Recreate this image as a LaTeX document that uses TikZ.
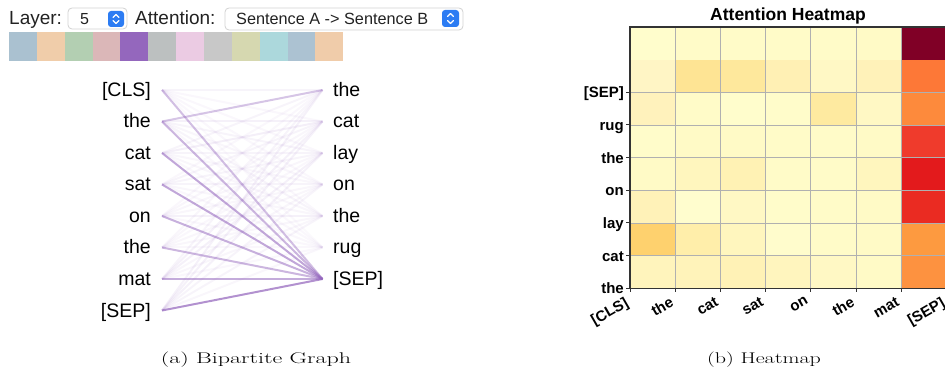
\documentclass[tikz,border=0pt]{standalone}
\usepackage{fontspec}
\usepackage{graphicx}
\newfontfamily\lsans{Liberation Sans}
\definecolor{attn}{HTML}{9467BD}
\definecolor{uitext}{HTML}{222222}
\definecolor{boxline}{HTML}{D2D2D2}
\definecolor{iconblue}{HTML}{2C7CF3}
\definecolor{gridgray}{HTML}{B0B0B0}
\definecolor{spinecol}{HTML}{333333}
\tikzset{
  uilabel/.style={anchor=base west, inner sep=0pt, text=uitext, font=\lsans\fontsize{19}{22}\selectfont},
  uibox/.style={draw=boxline, fill=white, rounded corners=4pt, line width=0.8pt},
  uiicon/.style={fill=iconblue, rounded corners=3pt},
  chev/.style={draw=white, line width=1.3pt, line cap=round, line join=round},
  lword/.style={anchor=base east, inner sep=0pt, font=\lsans\fontsize{19.5}{22}\selectfont},
  rword/.style={anchor=base west, inner sep=0pt, font=\lsans\fontsize{19.5}{22}\selectfont},
  link/.style={draw=attn, line width=2pt},
  grid line/.style={draw=gridgray, line width=0.9pt},
  spine/.style={draw=spinecol, line width=1.3pt},
  tickmark/.style={draw=spinecol, line width=1pt},
  ylab/.style={anchor=base east, inner sep=0pt, font=\lsans\bfseries\fontsize{15}{17}\selectfont},
  xlab/.style={anchor=north east, inner sep=0pt, rotate=30, font=\lsans\bfseries\fontsize{15}{17}\selectfont},
  htitle/.style={anchor=base, inner sep=0pt, font=\lsans\bfseries\fontsize{17.5}{20}\selectfont},
  captext/.style={inner sep=0pt, font=\fontsize{15.5}{18}\selectfont},
}
\begin{document}
\begin{tikzpicture}[x=1pt, y=-1pt]
\useasboundingbox (0,0) rectangle (945,371);

% ---------- top controls ----------
\node[uilabel] (layerlbl) at (9,25) {Layer:};
\draw[uibox] (68,8) rectangle (127,29);
\node[anchor=base west, inner sep=0pt, text=uitext, font=\lsans\fontsize{16}{18}\selectfont] (layerval) at (80,24.5) {5};
\fill[uiicon] (108,11) rectangle (124,27);
\draw[chev] (113,17.5) -- (116,14.5) -- (119,17.5);
\draw[chev] (113,20.5) -- (116,23.5) -- (119,20.5);
\node[uilabel] (attnlbl) at (135,25) {Attention:};
\draw[uibox] (225,8) rectangle (463,30);
\node[anchor=base west, inner sep=0pt, text=uitext, font=\lsans\fontsize{16.25}{18}\selectfont] (attnval) at (236,25) {Sentence A -> Sentence B};
\fill[uiicon] (442,10) rectangle (459,27);
\draw[chev] (447.5,16.5) -- (450.5,13.5) -- (453.5,16.5);
\draw[chev] (447.5,20.5) -- (450.5,23.5) -- (453.5,20.5);

% colour swatches
\foreach \c [count=\k from 0] in {AAC1D0,F0CDAA,B3CFB2,DBB7B8,9467BD,BCC0C0,EBCBE3,C8C8C8,D6D8B0,ACD8DC,ACC2D2,F0CCAA} {
  \definecolor{sw}{HTML}{\c}
  \fill[sw] ({9+\k*27.86},32.3) rectangle ++(27.86,28.7);
}

% ---------- bipartite graph ----------
\foreach \w [count=\i from 0] in {[CLS],the,cat,sat,on,the,mat,[SEP]} {
  \node[lword] (L\i) at (151,{90+\i*31.5+6.5}) {\w};
  \coordinate (la\i) at (162,{90+\i*31.5});
}
\foreach \w [count=\j from 0] in {the,cat,lay,on,the,rug,[SEP]} {
  \node[rword] (R\j) at (333,{90+\j*31.5+6.5}) {\w};
  \coordinate (rb\j) at (322.5,{90+\j*31.5});
}
\foreach \ws [count=\i from 0] in {
  {0.07,0.05,0.05,0.05,0.05,0.04,0.42},
  {0.38,0.09,0.07,0.06,0.07,0.05,0.48},
  {0.07,0.10,0.07,0.06,0.06,0.05,0.58},
  {0.05,0.07,0.07,0.07,0.06,0.05,0.58},
  {0.05,0.06,0.06,0.06,0.09,0.05,0.52},
  {0.06,0.06,0.05,0.06,0.06,0.05,0.48},
  {0.07,0.09,0.09,0.06,0.06,0.05,0.55},
  {0.09,0.09,0.09,0.07,0.07,0.06,0.72}} {
  \foreach \o [count=\j from 0] in \ws {
    \draw[link, draw opacity=\o] (la\i) -- (rb\j);
  }
}

% ---------- heatmap ----------
\node[htitle] (title) at (788,20.5) {Attention Heatmap};
\foreach \cols [count=\r from 0] in {
  {FFFDCC,FFFBC8,FFFBC8,FFFBC8,FFFBC8,FFFAC6,800026},
  {FFF5C5,FEE494,FEE89C,FFF0B4,FFF8C5,FFF2B9,FD7837},
  {FFF2BC,FFFBC8,FFFDCC,FFFCCA,FEEAA0,FFF8C4,FD8A3C},
  {FFFCCA,FFFAC6,FFFAC6,FFFBC8,FFFBC8,FFFAC6,EF3B2C},
  {FFFAC6,FFF6BE,FFF2B4,FFFBC8,FFFBC8,FFF6BE,E31A1C},
  {FFF2B8,FFFDCE,FFF8C4,FFFCCA,FFFBC8,FFFAC6,EA2B22},
  {FED16E,FFEEAA,FFF6BE,FFFCCC,FFFBC8,FFFAC6,FD9A40},
  {FFF4BC,FFF3BA,FFF2B6,FFF5BE,FFF8C4,FFFAC6,FD9240}} {
  \foreach \c [count=\k from 0] in \cols {
    \definecolor{cell}{HTML}{\c}
    \fill[cell] ({630+\k*45.23},{27+\r*32.66}) rectangle ++(45.23,32.66);
  }
}
\foreach \k in {1,...,6} {
  \draw[grid line] ({630+\k*45.23},27) -- ({630+\k*45.23},288.3);
}
\foreach \r in {2,...,7} {
  \draw[grid line] (630,{27+\r*32.66}) -- (946,{27+\r*32.66});
}
\draw[spine] (946,27) -- (630,27) -- (630,288.3) -- (946,288.3);
\foreach \w [count=\r from 2] in {[SEP],rug,the,on,lay,cat,the} {
  \draw[tickmark] (626,{27+\r*32.66}) -- (630,{27+\r*32.66});
  \node[ylab] (Y\r) at (624,{27+\r*32.66+5.5}) {\w};
}
\foreach \w [count=\k from 0] in {[CLS],the,cat,sat,on,the,mat,[SEP]} {
  \draw[tickmark] ({630+\k*45.23},288.3) -- ({630+\k*45.23},292.5);
  \node[xlab] (X\k) at ({630+\k*45.23-6},296) {\w};
}

% ---------- captions ----------
\node[captext] (capa) at (256,360) {\scalebox{1.55}[1]{(a) Bipartite Graph}};
\node[captext] (capb) at (764,360) {\scalebox{1.42}[1]{(b) Heatmap}};
\end{tikzpicture}
\end{document}
